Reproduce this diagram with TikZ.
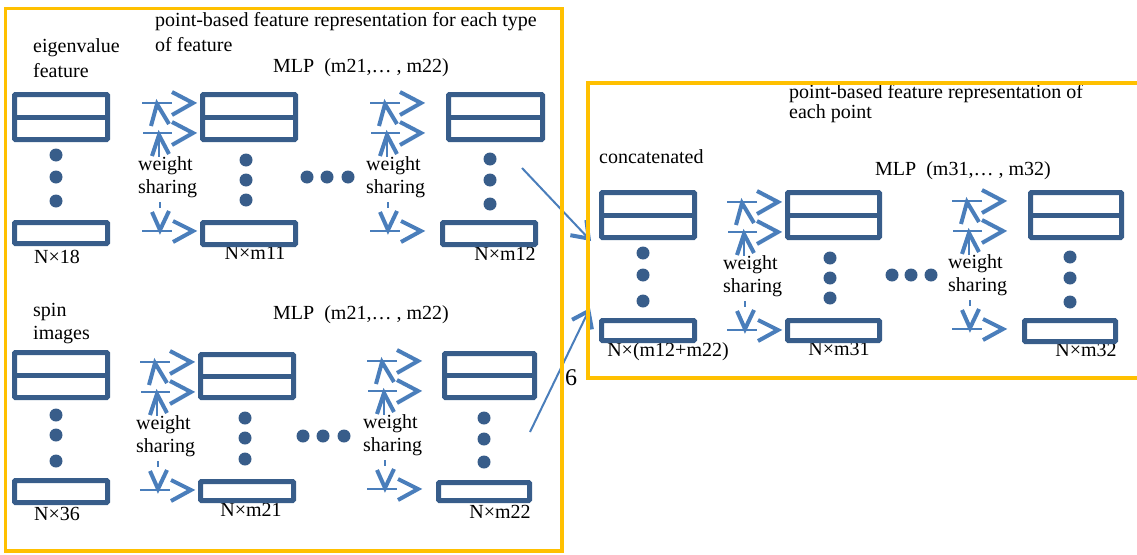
\documentclass[tikz,border=0pt]{standalone}
\usepackage{fontspec}
\setmainfont{Liberation Serif}
\usetikzlibrary{arrows.meta,calc}
\definecolor{boxc}{HTML}{385D8A}
\definecolor{arrc}{HTML}{4A7EBB}
\definecolor{framec}{HTML}{FFC000}
\begin{document}
\begin{tikzpicture}[x=1pt,y=-1pt,
  lbl/.style={font=\fontsize{20}{23}\selectfont, inner sep=0pt, text=black},
  dbox/.style={draw=boxc, line width=5pt, minimum height=45pt, inner sep=0pt, rounded corners=1pt},
  sbox/.style={draw=boxc, line width=5pt, minimum height=21pt, inner sep=0pt, rounded corners=1pt},
  midline/.style={draw=boxc, line width=5pt},
  vdot/.style={circle, fill=boxc, minimum size=13pt, inner sep=0pt},
  thinb/.style={draw=arrc, line width=2pt},
  chev/.style={draw=arrc, line width=4pt, miter limit=10},
  conn/.style={draw=arrc, line width=2pt, -{Straight Barb[length=15pt,width=22pt,line width=4pt]}},
  frame/.style={draw=framec, line width=3.5pt},
  ws/.pic={
    \draw[thinb] (0,0) -- (30,0);
    \draw[chev] (30,-11) -- (51,0) -- (30,12);
    \draw[thinb] (1,30) -- (30,30);
    \draw[chev] (30,19) -- (51,30) -- (30,42);
    \draw[chev] (9,23) -- (15,1) -- (27,21);
    \draw[thinb] (17,32) -- (17,54);
    \draw[chev] (10,53) -- (17,32) -- (27,51);
    \node[lbl, anchor=west] at (-4,63) {weight};
    \node[lbl, anchor=west] at (-4,86) {sharing};
    \draw[thinb] (18,99) -- (18,105);
    \draw[chev] (10,109) -- (18,127) -- (27,108);
    \draw[thinb] (0,128) -- (30,128);
    \draw[chev] (31,118) -- (51,128) -- (31,139);
  }]
\useasboundingbox (0,0) rectangle (1137,554);

% ---------- texts ----------
\node[lbl, anchor=west] (ttl1) at (155,22) {point-based feature representation for each type};
\node[lbl, anchor=west] (ttl2) at (155,45) {of feature};
\node[lbl, anchor=west] (eig1) at (33,48) {eigenvalue};
\node[lbl, anchor=west] (eig2) at (33,71) {feature};
\node[lbl, anchor=west] (mlpa) at (273,68) {MLP\ \ (m21,… , m22)};
\node[lbl, anchor=west] (spin1) at (33,312) {spin};
\node[lbl, anchor=west] (spin2) at (33,335) {images};
\node[lbl, anchor=west] (mlpb) at (273,315) {MLP\ \ (m21,… , m22)};
\node[lbl, anchor=west] (ttr1) at (789,94) {point-based feature representation of};
\node[lbl, anchor=west] (ttr2) at (789,114) {each point};
\node[lbl, anchor=west] (conc) at (599,157) {concatenated};
\node[lbl, anchor=west] (mlpc) at (875,171) {MLP\ \ (m31,… , m32)};

\node[lbl] (l18) at (57,257) {N×18};
\node[lbl] (lm11) at (255,253) {N×m11};
\node[lbl] (lm12) at (505,254) {N×m12};
\node[lbl] (l36) at (57,514) {N×36};
\node[lbl] (lm21) at (251,510) {N×m21};
\node[lbl] (lm22) at (500,512) {N×m22};
\node[lbl] (lcat) at (668,352) {N×(m12+m22)};
\node[lbl] (lm31) at (839,349) {N×m31};
\node[lbl] (lm32) at (1086,350) {N×m32};
\node[lbl, font=\fontsize{24}{28}\selectfont] (six) at (571,378) {6};

% ---------- boxes ----------
\node[dbox, minimum width=93pt] (t1) at (61,117) {};
\node[sbox, minimum width=93pt] (t1b) at (61,233) {};
\node[dbox, minimum width=93pt] (t2) at (249,117) {};
\node[sbox, minimum width=93pt, minimum height=22pt] (t2b) at (249,233.5) {};
\node[dbox, minimum width=94pt] (t3) at (495.5,117) {};
\node[sbox, minimum width=93pt, minimum height=22pt] (t3b) at (489,233.5) {};

\node[dbox, minimum width=93pt] (b1) at (61,375) {};
\node[sbox, minimum width=93pt, minimum height=22pt] (b1b) at (61,491.5) {};
\node[dbox, minimum width=93pt, minimum height=43pt] (b2) at (247,376) {};
\node[sbox, minimum width=93pt, minimum height=19pt] (b2b) at (247,491) {};
\node[dbox, minimum width=90pt, minimum height=44pt] (b3) at (489.5,375.5) {};
\node[sbox, minimum width=91pt, minimum height=18pt] (b3b) at (484,491.5) {};

\node[dbox, minimum width=93pt] (r1) at (648,215) {};
\node[sbox, minimum width=93pt, minimum height=20pt] (r1b) at (648,330.5) {};
\node[dbox, minimum width=92pt] (r2) at (833.5,215) {};
\node[sbox, minimum width=92pt, minimum height=20pt] (r2b) at (833.5,330.5) {};
\node[dbox, minimum width=91pt] (r3) at (1076,215) {};
\node[sbox, minimum width=91pt, minimum height=21pt] (r3b) at (1070,331) {};

\foreach \b in {t1,t2,t3,b1,b2,b3,r1,r2,r3}
  \draw[midline] (\b.west) -- (\b.east);

% ---------- vertical dots ----------
\foreach \n/\x/\ya/\yb/\yc in {t1/56/155/177/201, t2/246/160/180/200, t3/490/159/180/204,
    b1/56/415/435/461, b2/245/418/438/459, b3/484/418/439/462,
    r1/643/253/275/301, r2/830/258/278/298, r3/1070/257/278/302}{
  \node[vdot] (\n d1) at (\x,\ya) {};
  \node[vdot] (\n d2) at (\x,\yb) {};
  \node[vdot] (\n d3) at (\x,\yc) {};
}
% ---------- horizontal ellipsis dots ----------
\foreach \n/\xa/\xb/\xc/\y in {ea/307/327/348/177, eb/303/323/344/436, ec/892/911/931/275}{
  \node[vdot] (\n1) at (\xa,\y) {};
  \node[vdot] (\n2) at (\xb,\y) {};
  \node[vdot] (\n3) at (\xc,\y) {};
}

% ---------- weight sharing glyphs ----------
\pic at (142,103) {ws};
\pic at (370,103) {ws};
\pic at (140,362) {ws};
\pic at (367,361) {ws};
\pic at (727,202) {ws};
\pic at (952,201) {ws};

% ---------- connectors ----------
\coordinate (c1s) at (522,168);
\coordinate (c2s) at (530,432);
\draw[conn] (c1s) -- ($(r1.south west)+(-8,1)$);
\draw[conn] (c2s) -- ($(r1b.north west)+(-9,-10)$);

% ---------- frames ----------
\draw[frame] (5.5,8.5) rectangle (562,551);
\draw[frame] (588,83) rectangle (1150,378);
\end{tikzpicture}
\end{document}
